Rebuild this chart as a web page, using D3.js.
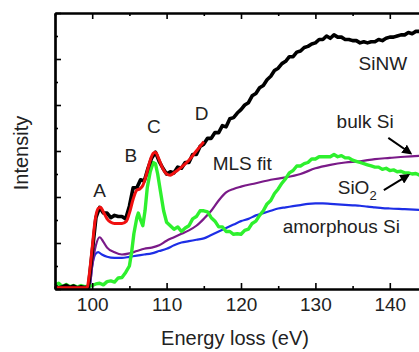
<!DOCTYPE html>
<html>
<head>
<meta charset="utf-8">
<script src="https://cdn.jsdelivr.net/npm/d3@7"></script>
<style>
  body { margin: 0; background: #fff; }
  text { font-family: "Liberation Sans", Arial, sans-serif; }
</style>
</head>
<body>
<svg id="chart" width="419" height="352"></svg>
<script>
// SiNW spectrum, 0.5 eV steps from 95 to 145
const sinwStart = 95;
const sinwStep = 0.5;
const sinwValues = [
  0.12, 0.05, 0.1, 0.16, 0.07, 0.13, 0.05, 0.1, 0.06, 0.09,
  1.6, 3.1, 3.55, 3.3, 3.3, 3.1, 3.2, 3.15, 3.15, 3.05,
  3.6, 4.4, 4.4, 4.75, 4.7, 5.25, 5.7, 5.95, 5.55, 5.25,
  5.0, 5.1, 5.05, 5.3, 5.25, 5.5, 5.5, 5.85, 5.85, 6.2,
  6.3, 6.55, 6.55, 6.8, 6.8, 7.1, 7.05, 7.4, 7.45, 7.65,
  7.8, 8.0, 8.1, 8.4, 8.5, 8.75, 8.85, 9.1, 9.25, 9.5,
  9.6, 9.8, 9.9, 10.1, 10.1, 10.3, 10.35, 10.5, 10.55, 10.65,
  10.7, 10.85, 10.85, 11.0, 10.9, 11.05, 10.95, 10.95, 10.85, 10.85,
  10.8, 10.8, 10.7, 10.75, 10.7, 10.75, 10.75, 10.85, 10.8, 10.9,
  10.95, 10.95, 11.0, 11.05, 11.05, 11.15, 11.1, 11.2, 11.2, 11.25, 11.25
];

// MLS fit
const fitEnergy = [95, 99.3, 99.6, 100, 100.4, 100.8, 101.1, 101.5, 102, 102.5, 103, 104, 104.6, 105, 105.5, 106, 106.4, 106.8, 107.3, 107.8, 108.2, 108.5, 108.9, 109.4, 110, 110.5, 111, 112, 113, 114, 115];
const fitValues = [0.05, 0.05, 0.6, 1.8, 3.0, 3.5, 3.55, 3.35, 3.05, 2.9, 2.85, 2.85, 2.95, 3.3, 3.9, 4.3, 4.35, 4.5, 5.0, 5.6, 5.9, 5.95, 5.7, 5.3, 5.0, 4.95, 5.05, 5.3, 5.6, 6.0, 6.4];

// SiO2 reference
const sio2Energy = [95, 95.5, 96, 96.5, 97, 97.5, 98, 98.5, 99, 99.5, 100, 100.5, 101, 101.5, 102, 102.5, 103, 103.5, 104, 104.5, 105, 105.3, 105.6, 106, 106.2, 106.5, 106.8, 107.1, 107.4, 107.8, 108.2, 108.5, 108.8, 109.2, 109.6, 110, 110.5, 111, 111.5, 112, 112.5, 113, 113.5, 114, 114.5, 115, 115.5, 116, 116.5, 117, 117.5, 118, 118.5, 119, 119.5, 120, 120.5, 121, 121.5, 122, 122.5, 123, 123.5, 124, 124.5, 125, 125.5, 126, 126.5, 127, 127.5, 128, 128.5, 129, 129.5, 130, 130.5, 131, 131.5, 132, 132.5, 133, 133.5, 134, 134.5, 135, 135.5, 136, 136.5, 137, 137.5, 138, 138.5, 139, 139.5, 140, 140.5, 141, 141.5, 142, 142.5, 143, 143.5, 144, 144.5, 145];
const sio2Values = [0.15, 0.25, 0.1, 0.2, 0.1, 0.15, 0.08, 0.15, 0.1, 0.12, 0.15, 0.22, 0.25, 0.18, 0.32, 0.35, 0.3, 0.48, 0.5, 0.72, 1.0, 1.6, 2.4, 3.1, 3.3, 3.0, 2.75, 3.4, 4.4, 5.1, 5.5, 5.45, 5.0, 4.2, 3.4, 2.9, 2.75, 2.6, 2.7, 2.5, 2.65, 2.75, 3.05, 3.15, 3.4, 3.4, 3.35, 3.1, 2.95, 2.7, 2.7, 2.5, 2.5, 2.38, 2.4, 2.38, 2.55, 2.6, 2.85, 2.95, 3.2, 3.4, 3.7, 3.85, 4.15, 4.35, 4.6, 4.8, 5.05, 5.15, 5.35, 5.35, 5.45, 5.5, 5.65, 5.65, 5.75, 5.75, 5.75, 5.75, 5.85, 5.75, 5.8, 5.7, 5.7, 5.6, 5.55, 5.5, 5.45, 5.4, 5.35, 5.3, 5.3, 5.2, 5.25, 5.15, 5.18, 5.1, 5.12, 5.05, 5.05, 5.0, 5.02, 4.95, 4.97, 4.9];

// bulk Si reference
const bulkEnergy = [95, 99.6, 100, 100.5, 101, 101.5, 102, 103, 104, 105, 106, 107, 108, 109, 110, 111, 112, 113, 114, 115, 116, 117, 118, 119, 120, 122, 124, 126, 128, 130, 132, 134, 136, 138, 140, 142, 145];
const bulkValues = [0, 0, 1.0, 1.9, 2.25, 2.05, 1.8, 1.6, 1.5, 1.55, 1.65, 1.75, 1.8, 1.9, 2.1, 2.25, 2.4, 2.55, 2.75, 3.05, 3.4, 3.85, 4.2, 4.35, 4.45, 4.6, 4.75, 4.85, 5.0, 5.25, 5.4, 5.5, 5.55, 5.65, 5.7, 5.75, 5.8];

// amorphous Si reference
const amorphEnergy = [95, 99.6, 100, 100.4, 100.8, 101.3, 102, 103, 104, 105, 106, 107, 108, 109, 110, 111, 112, 113, 114, 115, 116, 117, 118, 119, 120, 121, 122, 123, 124, 125, 126, 127, 128, 129, 130, 131, 132, 133, 134, 135, 136, 137, 138, 139, 140, 142, 145];
const amorphValues = [0, 0, 1.0, 1.5, 1.6, 1.5, 1.4, 1.35, 1.35, 1.4, 1.45, 1.5, 1.55, 1.65, 1.75, 1.9, 2.02, 2.08, 2.14, 2.2, 2.35, 2.5, 2.65, 2.8, 2.95, 3.05, 3.2, 3.3, 3.4, 3.5, 3.55, 3.6, 3.65, 3.7, 3.72, 3.72, 3.7, 3.68, 3.66, 3.64, 3.62, 3.58, 3.55, 3.52, 3.5, 3.47, 3.42];

const xMajorTicks = [100, 110, 120, 130, 140];
const xMinorTicks = [95, 105, 115, 125, 135, 145];
const yMajorTicks = [0, 2, 4, 6, 8, 10, 12];
const yMinorTicks = [1, 3, 5, 7, 9, 11];

const svg = d3.select("#chart");
const mLeft = 55, mRight = 427, mTop = 13, mBottom = 289;

const x = d3.scaleLinear().domain([95, 145]).range([mLeft, mRight]);
const y = d3.scaleLinear().domain([0, 12]).range([mBottom, mTop]);

const toPts = (es, vs) => es.map((e, i) => [e, vs[i]]);
const sinwPts = sinwValues.map((v, i) => [sinwStart + i * sinwStep, v]);

const line = d3.line().x(d => x(d[0])).y(d => y(d[1]));
const smooth = d3.line().x(d => x(d[0])).y(d => y(d[1])).curve(d3.curveMonotoneX);

const plot = svg.append("g").attr("class", "plot-area");

plot.append("path").datum(toPts(amorphEnergy, amorphValues))
  .attr("d", smooth).attr("fill", "none").attr("stroke", "#1d2ee6").attr("stroke-width", 2.2);
plot.append("path").datum(toPts(bulkEnergy, bulkValues))
  .attr("d", smooth).attr("fill", "none").attr("stroke", "#7a1a88").attr("stroke-width", 2.2);
plot.append("path").datum(toPts(sio2Energy, sio2Values))
  .attr("d", line).attr("fill", "none").attr("stroke", "#2ef02e").attr("stroke-width", 3.4).attr("stroke-linejoin", "round");
plot.append("path").datum(sinwPts)
  .attr("d", line).attr("fill", "none").attr("stroke", "#000").attr("stroke-width", 3.6).attr("stroke-linejoin", "round");
plot.append("path").datum(toPts(fitEnergy, fitValues))
  .attr("d", smooth).attr("fill", "none").attr("stroke", "#f01010").attr("stroke-width", 3);

// axes, ticks pointing inward
const fmt = d3.format("d");
const styleAxis = g => {
  g.select(".domain").attr("stroke-width", 2.2);
  g.selectAll(".tick line").attr("stroke-width", 1.6);
  g.selectAll("text").attr("font-size", 19).attr("fill", "#222");
};

svg.append("g").attr("transform", `translate(0,${mBottom})`)
  .call(d3.axisBottom(x).tickValues(xMajorTicks).tickFormat(fmt).tickSizeInner(-6).tickSizeOuter(0).tickPadding(9))
  .call(styleAxis);
svg.append("g").attr("transform", `translate(0,${mBottom})`)
  .call(d3.axisBottom(x).tickValues(xMinorTicks).tickFormat("").tickSizeInner(-3).tickSizeOuter(0))
  .call(styleAxis);
svg.append("g").attr("transform", `translate(0,${mTop})`)
  .call(d3.axisTop(x).tickValues(xMajorTicks).tickFormat("").tickSizeInner(-6).tickSizeOuter(0))
  .call(styleAxis);
svg.append("g").attr("transform", `translate(0,${mTop})`)
  .call(d3.axisTop(x).tickValues(xMinorTicks).tickFormat("").tickSizeInner(-3).tickSizeOuter(0))
  .call(styleAxis);
svg.append("g").attr("transform", `translate(${mLeft},0)`)
  .call(d3.axisLeft(y).tickValues(yMajorTicks).tickFormat("").tickSizeInner(-6).tickSizeOuter(0))
  .call(styleAxis);
svg.append("g").attr("transform", `translate(${mLeft},0)`)
  .call(d3.axisLeft(y).tickValues(yMinorTicks).tickFormat("").tickSizeInner(-3).tickSizeOuter(0))
  .call(styleAxis);

// axis titles
svg.append("text").attr("x", (mLeft + mRight) / 2 - 6).attr("y", 345)
  .attr("text-anchor", "middle").attr("font-size", 20).attr("fill", "#222")
  .text("Energy loss (eV)");
svg.append("text").attr("transform", `translate(28,${(mTop + mBottom) / 2 + 2}) rotate(-90)`)
  .attr("text-anchor", "middle").attr("font-size", 20).attr("fill", "#222")
  .text("Intensity");

// peak letters and curve labels (data coordinates)
const labels = [
  { e: 101.0, v: 4.0, t: "A", anchor: "middle" },
  { e: 105.2, v: 5.52, t: "B", anchor: "middle" },
  { e: 108.3, v: 6.78, t: "C", anchor: "middle" },
  { e: 114.7, v: 7.35, t: "D", anchor: "middle" },
  { e: 135.8, v: 9.52, t: "SiNW", anchor: "start" },
  { e: 132.85, v: 7.0, t: "bulk Si", anchor: "start" },
  { e: 116.2, v: 5.17, t: "MLS fit", anchor: "start" },
  { e: 125.6, v: 2.43, t: "amorphous Si", anchor: "start" }
];
svg.selectAll(".lbl").data(labels).enter().append("text")
  .attr("class", "lbl")
  .attr("x", d => x(d.e)).attr("y", d => y(d.v))
  .attr("text-anchor", d => d.anchor)
  .attr("font-size", 19).attr("fill", "#222")
  .text(d => d.t);

const sio2Label = svg.append("text").attr("x", x(133.0)).attr("y", y(4.13))
  .attr("font-size", 19).attr("fill", "#222");
sio2Label.append("tspan").text("SiO");
sio2Label.append("tspan").attr("font-size", 13).attr("dy", 6).text("2");

// arrows
svg.append("defs").append("marker")
  .attr("id", "head").attr("viewBox", "0 0 10 10").attr("refX", 8).attr("refY", 5)
  .attr("markerWidth", 5).attr("markerHeight", 5).attr("orient", "auto")
  .append("path").attr("d", "M0,0L10,5L0,10z").attr("fill", "#000");

const arrows = [
  { e1: 139.8, v1: 6.57, e2: 142.8, v2: 5.9 },
  { e1: 139.2, v1: 4.3, e2: 142.5, v2: 4.95 }
];
svg.selectAll(".arrow").data(arrows).enter().append("line")
  .attr("class", "arrow")
  .attr("x1", d => x(d.e1)).attr("y1", d => y(d.v1))
  .attr("x2", d => x(d.e2)).attr("y2", d => y(d.v2))
  .attr("stroke", "#000").attr("stroke-width", 2)
  .attr("marker-end", "url(#head)");
</script>
</body>
</html>
